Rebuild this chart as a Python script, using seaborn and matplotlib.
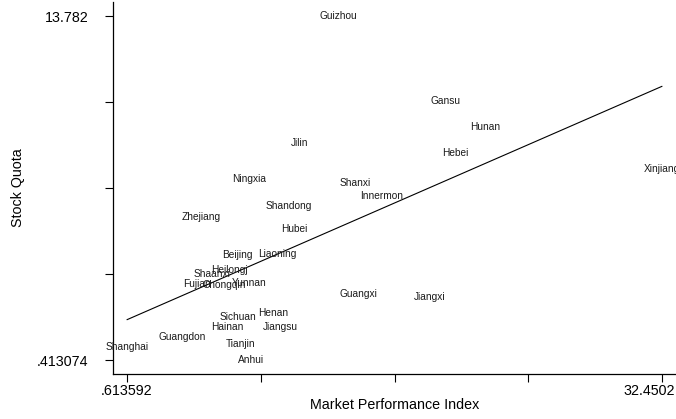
import numpy as np
import pandas as pd
import seaborn as sns
import matplotlib
matplotlib.use("Agg")
import matplotlib.pyplot as plt
from matplotlib.transforms import ScaledTranslation

# provinces, market performance index (x) and stock quota (y)
provinces = ["Guizhou", "Gansu", "Hunan", "Hebei", "Xinjiang", "Jilin", "Ningxia",
             "Shanxi", "Innermon", "Shandong", "Zhejiang", "Hubei", "Beijing",
             "Liaoning", "Heilongj", "Shaanxi", "Fujian", "Chongqin", "Yunnan",
             "Guangxi", "Jiangxi", "Sichuan", "Henan", "Hainan", "Jiangsu",
             "Guangdon", "Shanghai", "Tianjin", "Anhui"]
market_index = [13.21, 19.59, 21.91, 20.16, 32.4502, 10.89, 7.86,
                14.22, 15.76, 10.24, 5.01, 10.59, 7.21,
                9.58, 6.73, 5.66, 4.77, 6.43, 7.86,
                14.39, 18.61, 7.21, 9.29, 6.61, 9.76,
                3.88, 0.613592, 7.38, 7.98]
stock_quota = [13.782, 10.49, 9.48, 8.47, 7.85, 8.85, 7.44,
               7.29, 6.79, 6.41, 5.98, 5.50, 4.49,
               4.53, 3.91, 3.74, 3.36, 3.33, 3.39,
               2.97, 2.87, 2.10, 2.25, 1.68, 1.71,
               1.29, 0.93, 1.02, 0.413074]

x_ticklabels = [".613592", "", "", "", "32.4502"]
y_ticklabels = [".413074", "", "", "", "13.782"]

df = pd.DataFrame({"province": provinces, "x": market_index, "y": stock_quota})

sns.set_style("white")
plt.rcParams["font.family"] = ["Liberation Sans", "DejaVu Sans"]
plt.rcParams["text.color"] = "black"
plt.rcParams["axes.labelcolor"] = "black"
plt.rcParams["xtick.color"] = "black"
plt.rcParams["ytick.color"] = "black"

fig = plt.figure(figsize=(6.76, 4.19), dpi=100)
ax = fig.add_axes([113 / 676, 45 / 419, 563 / 676, 372 / 419])

# fitted line (Stata lfit style)
sns.regplot(data=df, x="x", y="y", scatter=False, ci=None, ax=ax,
            line_kws={"color": "black", "lw": 0.8})

# labels only, centred on the points
for _, r in df.iterrows():
    ax.text(r["x"], r["y"], r["province"], ha="center", va="center",
            fontsize=7.3, color="#1a1a1a")

xmin, xmax = df["x"].min(), df["x"].max()
ymin, ymax = df["y"].min(), df["y"].max()
xpad = (xmax - xmin) * 14 / 536
ypad = (ymax - ymin) * 14 / 344
ax.set_xlim(xmin - xpad, xmax + xpad)
ax.set_ylim(ymin - ypad, ymax + ypad)

ax.set_xticks(np.linspace(xmin, xmax, 5))
ax.set_xticklabels(x_ticklabels)
ax.set_yticks(np.linspace(ymin, ymax, 5))
ax.set_yticklabels(y_ticklabels)
ax.tick_params(axis="x", length=5.8, width=0.8, pad=1.5, labelsize=10.3, direction="out", bottom=True)
ax.tick_params(axis="y", length=5.8, width=0.8, pad=12, labelsize=10.3, direction="out", left=True)

# last x label pushed inside the figure, as in the original
last = ax.get_xticklabels()[-1]
last.set_horizontalalignment("right")
last.set_transform(last.get_transform() + ScaledTranslation(0.13, 0, fig.dpi_scale_trans))

for s in ["top", "right"]:
    ax.spines[s].set_visible(False)
for s in ["left", "bottom"]:
    ax.spines[s].set_color("black")
    ax.spines[s].set_linewidth(0.9)

ax.set_xlabel("Market Performance Index", fontsize=10.3)
ax.set_ylabel("Stock Quota", fontsize=10.3)
ax.xaxis.label.set_va("center")
ax.yaxis.label.set_va("center")
ax.xaxis.set_label_coords(0.5, -31 / 372)
ax.yaxis.set_label_coords(-95 / 563, 0.5)

fig.savefig("out.png", dpi=100)
